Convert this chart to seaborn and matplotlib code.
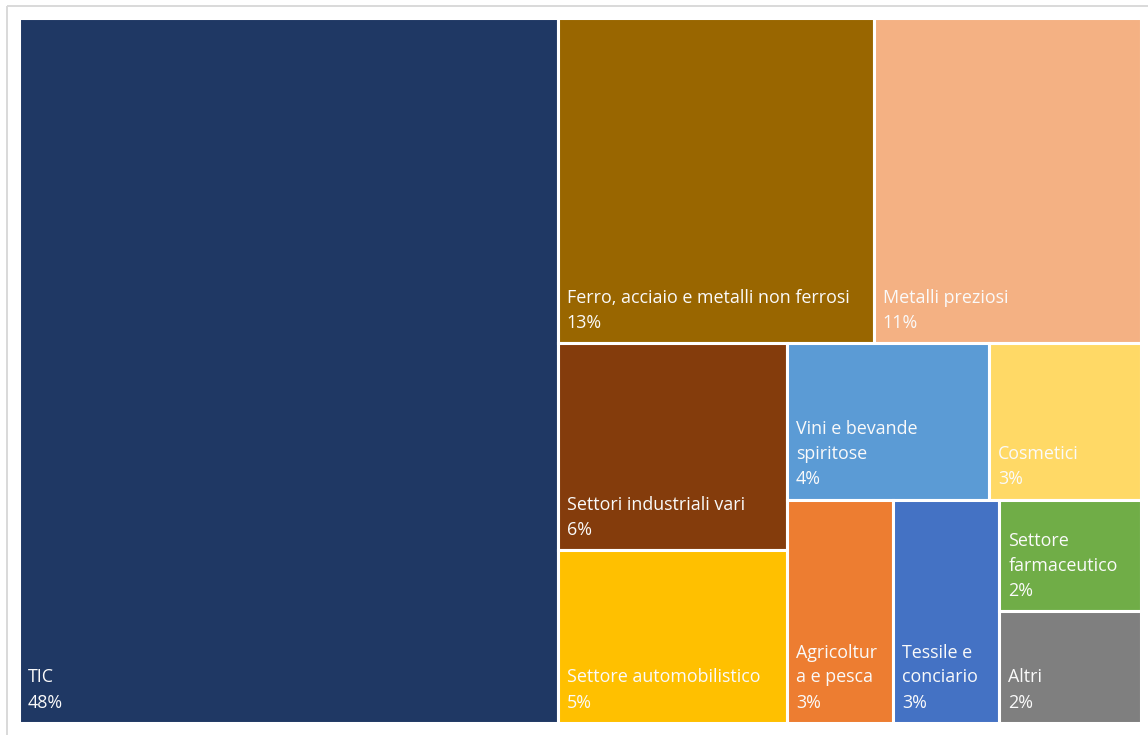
import matplotlib
matplotlib.use("Agg")
import matplotlib.pyplot as plt
from matplotlib.patches import Rectangle
import seaborn as sns

# Shares of the sector breakdown (percent)
categories = [
    "TIC",
    "Ferro, acciaio e metalli non ferrosi",
    "Metalli preziosi",
    "Settori industriali vari",
    "Settore automobilistico",
    "Vini e bevande\nspiritose",
    "Cosmetici",
    "Agricoltur\na e pesca",
    "Tessile e\nconciario",
    "Settore\nfarmaceutico",
    "Altri",
]
values = [48, 13, 11, 6, 5, 4, 3, 3, 3, 2, 2]
colors = [
    "#1F3864", "#996600", "#F4B183", "#843C0C", "#FFC000",
    "#5B9BD5", "#FFD966", "#ED7D31", "#4472C4", "#70AD47", "#7F7F7F",
]

# Strips of the treemap: "v" = column cut from the left (items stacked),
# "h" = row cut from the top (items side by side)
strips = [
    ("v", [0]),
    ("h", [1, 2]),
    ("v", [3, 4]),
    ("h", [5, 6]),
    ("v", [7]),
    ("v", [8]),
    ("v", [9, 10]),
]

sns.set_theme(style="white")
plt.rcParams["font.family"] = ["Open Sans", "DejaVu Sans"]
palette = sns.color_palette(colors)

W, H = 1148, 735
fig = plt.figure(figsize=(W / 100, H / 100), dpi=100)
ax = fig.add_axes([0, 0, 1, 1])
ax.set_xlim(0, W)
ax.set_ylim(H, 0)
ax.axis("off")

# chart frame (extends past the right and bottom edges)
ax.plot([6.5, W + 5], [5.5, 5.5], color="#D9D9D9", lw=1.4, solid_capstyle="butt")
ax.plot([6.5, 6.5], [5.5, H + 5], color="#D9D9D9", lw=1.4, solid_capstyle="butt")

# plot area in pixel space
x0, y0, x1, y1 = 19.0, 17.5, 1141.0, 723.0
remaining = sum(values)


def draw_cell(i, x, y, w, h):
    ax.add_patch(Rectangle((x, y), w, h, facecolor=palette[i],
                           edgecolor="white", linewidth=2.2))
    ax.text(x + 9.0, y + h - 15.5, f"{categories[i]}\n{values[i]}%",
            color="#FAFAFA", fontsize=12.9, ha="left", va="baseline",
            linespacing=1.5)


for orient, idx in strips:
    s = sum(values[i] for i in idx)
    frac = s / remaining
    if orient == "v":
        sw = (x1 - x0) * frac
        yy = y0
        for i in idx:
            hh = (y1 - y0) * values[i] / s
            draw_cell(i, x0, yy, sw, hh)
            yy += hh
        x0 += sw
    else:
        sh = (y1 - y0) * frac
        xx = x0
        for i in idx:
            ww = (x1 - x0) * values[i] / s
            draw_cell(i, xx, y0, ww, sh)
            xx += ww
        y0 += sh
    remaining -= s

fig.savefig("out.png", dpi=100, facecolor="white")
